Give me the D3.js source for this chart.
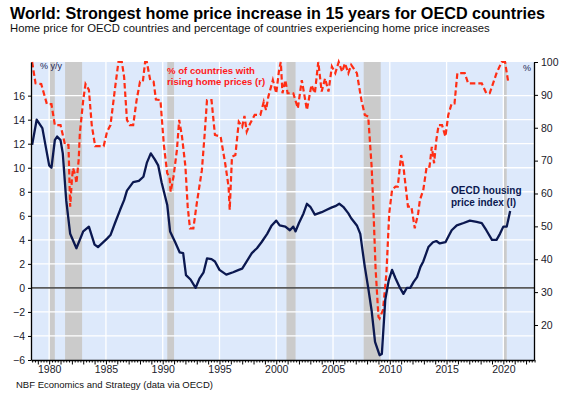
<!DOCTYPE html>
<html>
<head>
<meta charset="utf-8">
<script src="https://cdn.jsdelivr.net/npm/d3@7"></script>
<style>
  body { margin: 0; background: #fff; }
  text { font-family: "Liberation Sans", Arial, sans-serif; }
</style>
</head>
<body>
<div id="chart"></div>
<script>
// OECD housing price index, % y/y (left axis)
var hpiDates = [1978.5, 1978.9, 1979.4, 1980.0, 1980.2, 1980.5, 1980.7, 1981.0, 1981.2, 1981.5,
  1981.85, 1982.4, 1983.0, 1983.5, 1984.0, 1984.3, 1985.1, 1985.4, 1985.8, 1986.25,
  1986.6, 1986.85, 1987.4, 1987.9, 1988.3, 1988.6, 1988.95, 1989.3, 1989.6, 1989.9,
  1990.4, 1990.65, 1991.1, 1991.5, 1991.8, 1992.05, 1992.45, 1992.9, 1993.25, 1993.6,
  1993.9, 1994.3, 1994.6, 1995.0, 1995.6, 1996.2, 1996.7, 1997.0, 1997.4, 1997.85,
  1998.3, 1998.7, 1999.2, 1999.6, 2000.0, 2000.3, 2000.8, 2001.2, 2001.5, 2001.7,
  2002.0, 2002.4, 2002.7, 2003.0, 2003.4, 2004.0, 2004.45, 2004.9, 2005.2, 2005.55,
  2005.9, 2006.35, 2006.6, 2007.1, 2007.4, 2007.6, 2007.8, 2008.1, 2008.4, 2008.7,
  2009.1, 2009.3, 2009.6, 2009.9, 2010.2, 2010.5, 2010.9, 2011.2, 2011.5, 2011.8,
  2012.1, 2012.4, 2012.7, 2012.95, 2013.4, 2013.8, 2014.1, 2014.4, 2014.9, 2015.15,
  2015.45, 2015.9, 2016.5, 2017.05, 2017.65, 2018.1, 2018.5, 2019.0, 2019.4, 2019.7,
  2020.0, 2020.3, 2020.6];
var hpiYoY = [11.9, 14.0, 13.3, 10.2, 10.0, 12.3, 12.6, 12.3, 11.2, 7.3,
  4.5, 3.3, 4.7, 5.1, 3.6, 3.4, 4.1, 4.4, 5.4, 6.5,
  7.3, 8.1, 8.8, 8.9, 9.25, 10.4, 11.2, 10.7, 10.2, 8.8,
  6.9, 4.7, 3.8, 2.95, 2.9, 1.06, 0.7, 0.0, 0.8, 1.3,
  2.45, 2.4, 2.2, 1.5, 1.1, 1.3, 1.5, 1.6, 2.2, 2.9,
  3.3, 3.8, 4.5, 5.2, 5.6, 5.2, 5.1, 4.8, 5.1, 4.7,
  5.4, 6.2, 7.0, 6.75, 6.1, 6.3, 6.5, 6.7, 6.8, 7.0,
  6.75, 6.2, 5.8, 5.2, 4.5, 3.1, 1.75, 0.0, -1.9, -4.5,
  -5.6, -5.5, -1.0, 0.6, 1.5, 0.8, 0.0, -0.5, 0.0, 0.0,
  0.5, 0.9, 1.75, 2.2, 3.4, 3.8, 3.9, 3.7, 3.8, 4.25,
  4.8, 5.2, 5.4, 5.6, 5.5, 5.4, 4.8, 4.0, 4.0, 4.5,
  5.1, 5.1, 6.4];

// % of countries with rising home prices (right axis)
var shareDates = [1978.5, 1978.8, 1979.3, 1979.8, 1980.2, 1980.5, 1981.0, 1981.3, 1981.4, 1981.7,
  1981.85, 1982.0, 1982.1, 1982.3, 1982.4, 1982.6, 1982.7, 1983.0, 1983.2, 1983.5,
  1983.75, 1984.05, 1984.8, 1985.1, 1985.4, 1985.8, 1986.1, 1986.4, 1986.6, 1986.85,
  1987.1, 1987.4, 1987.7, 1988.0, 1988.25, 1988.45, 1988.6, 1988.9, 1989.2, 1989.4,
  1989.8, 1990.1, 1990.4, 1990.6, 1990.7, 1990.95, 1991.25, 1991.45, 1991.7, 1992.0,
  1992.2, 1992.4, 1992.7, 1993.0, 1993.45, 1993.7, 1993.9, 1994.3, 1994.6, 1995.1,
  1995.5, 1995.8, 1995.9, 1996.1, 1996.4, 1996.7, 1997.0, 1997.2, 1997.4, 1997.7,
  1998.1, 1998.6, 1998.9, 1999.1, 1999.3, 1999.7, 2000.0, 2000.25, 2000.4, 2000.55,
  2000.8, 2001.0, 2001.5, 2001.9, 2002.25, 2002.7, 2003.1, 2003.4, 2003.7, 2004.0,
  2004.3, 2004.6, 2004.9, 2005.2, 2005.5, 2005.8, 2006.05, 2006.35, 2006.6, 2007.1,
  2007.5, 2007.8, 2008.1, 2008.4, 2008.55, 2008.75, 2009.0, 2009.1, 2009.4, 2009.7,
  2009.95, 2010.2, 2010.5, 2010.7, 2011.0, 2011.2, 2011.6, 2011.9, 2012.2, 2012.5,
  2012.65, 2012.95, 2013.25, 2013.5, 2013.7, 2013.9, 2014.1, 2014.3, 2014.6, 2014.9,
  2015.15, 2015.45, 2015.7, 2015.95, 2016.6, 2016.9, 2018.1, 2018.5, 2018.8, 2019.4,
  2019.85, 2020.15, 2020.45];
var sharePct = [100, 93.5, 93.3, 87.2, 87.2, 80.8, 80.8, 76.3, 74.8, 74.8,
  56, 64.1, 67.7, 65.6, 63.1, 70.2, 78.3, 88.4, 93.3, 91.5,
  80.8, 74.4, 74.4, 78.8, 80.8, 92, 100, 100, 95.5, 82.4,
  80.8, 80.8, 88.4, 94, 94, 100, 100, 94.5, 94, 88.6,
  88.4, 74.8, 66.1, 65.1, 60.5, 65.1, 73.2, 82.4, 77.3, 68.2,
  56, 49.4, 49.4, 57, 67.1, 78.3, 88.4, 88.4, 77.8, 77.3,
  69.2, 62.1, 55, 71.2, 71.7, 81.8, 80.3, 83.6, 78.8, 81.3,
  83.9, 83.9, 87.9, 85.4, 89.4, 94.5, 90.5, 97.6, 100, 90.5,
  94.5, 90.5, 90.5, 85.9, 94.5, 85.4, 93, 90.5, 100, 91,
  95, 91, 98.6, 96.6, 100, 97, 99.6, 96.6, 99.1, 96.6,
  88.4, 83.9, 83.4, 68.2, 56, 37, 22.5, 22, 24.6, 35.7,
  54, 61.1, 62.1, 62.1, 71.7, 68.2, 56, 56, 49.4, 54,
  58, 61.1, 68.2, 68.2, 74.2, 69.2, 76.3, 80.8, 80.8, 77.3,
  83.9, 87.4, 87.4, 96.6, 96.6, 93.5, 93.5, 90.5, 90.5, 96.6,
  100, 100, 93.5];

// recessions (shaded)
var recStart = [1980.0, 1981.4, 1990.4, 2000.9, 2007.7, 2020.0];
var recEnd   = [1980.5, 1982.9, 1991.0, 2001.7, 2009.2, 2020.3];

var leftTicks = [-6, -4, -2, 0, 2, 4, 6, 8, 10, 12, 14, 16];
var rightTicks = [20, 30, 40, 50, 60, 70, 80, 90, 100];
var yearLabels = [1980, 1985, 1990, 1995, 2000, 2005, 2010, 2015, 2020];

var W = 569, H = 406;
var plotL = 31, plotR = 534, plotT = 62, plotB = 360;

var svg = d3.select("#chart").append("svg")
    .attr("width", W)
    .attr("height", H);

var x = d3.scaleLinear().domain([1978.4, 2022.7]).range([plotL, plotR]);
var yL = d3.scaleLinear().domain([-6, 18.8]).range([plotB, plotT]);
var yR = d3.scaleLinear().domain([9.35, 100]).range([plotB, plotT]);

// titles
svg.append("text")
    .attr("x", 10).attr("y", 19)
    .attr("font-size", "16.2px")
    .attr("font-weight", "bold")
    .attr("fill", "#000")
    .text("World: Strongest home price increase in 15 years for OECD countries");
svg.append("text")
    .attr("x", 10).attr("y", 32)
    .attr("font-size", "11.3px")
    .attr("fill", "#111")
    .text("Home price for OECD countries and percentage of countries experiencing home price increases");

// plot background
svg.append("rect")
    .attr("x", plotL).attr("y", plotT)
    .attr("width", plotR - plotL).attr("height", plotB - plotT)
    .attr("fill", "#dde9fb");

// recession bars
svg.append("g").selectAll("rect")
    .data(recStart)
    .enter().append("rect")
    .attr("x", function (d) { return x(d); })
    .attr("y", plotT)
    .attr("width", function (d, i) { return x(recEnd[i]) - x(d); })
    .attr("height", plotB - plotT)
    .attr("fill", "#cbcbcb");

// grid
var grid = svg.append("g").attr("stroke", "#fff").attr("stroke-width", 1.3);
grid.selectAll(".h").data(leftTicks.filter(function (d) { return d !== 0 && d !== -6; }))
    .enter().append("line")
    .attr("x1", plotL).attr("x2", plotR)
    .attr("y1", function (d) { return yL(d); })
    .attr("y2", function (d) { return yL(d); });
grid.selectAll(".v").data(yearLabels)
    .enter().append("line")
    .attr("y1", plotT).attr("y2", plotB)
    .attr("x1", function (d) { return x(d); })
    .attr("x2", function (d) { return x(d); });

// zero line
svg.append("line")
    .attr("x1", plotL).attr("x2", plotR)
    .attr("y1", yL(0)).attr("y2", yL(0))
    .attr("stroke", "#5a5a5a")
    .attr("stroke-width", 1.6);

// lines
var shareLine = d3.line()
    .x(function (d, i) { return x(shareDates[i]); })
    .y(function (d) { return yR(d); });
svg.append("path")
    .attr("d", shareLine(sharePct))
    .attr("fill", "none")
    .attr("stroke", "#ff2d14")
    .attr("stroke-width", 2.2)
    .attr("stroke-dasharray", "5.5,3");

var hpiLine = d3.line()
    .x(function (d, i) { return x(hpiDates[i]); })
    .y(function (d) { return yL(d); });
svg.append("path")
    .attr("d", hpiLine(hpiYoY))
    .attr("fill", "none")
    .attr("stroke", "#0b1850")
    .attr("stroke-width", 2.3)
    .attr("stroke-linejoin", "round");

// axes
var axL = svg.append("g")
    .attr("transform", "translate(" + plotL + ",0)")
    .call(d3.axisLeft(yL).tickValues(leftTicks).tickSize(3).tickSizeOuter(0).tickFormat(d3.format("d")));
var axR = svg.append("g")
    .attr("transform", "translate(" + plotR + ",0)")
    .call(d3.axisRight(yR).tickValues(rightTicks).tickSize(4).tickSizeOuter(0));
var qTicks = d3.range(1978.5, 2022.76, 0.25);
var axB = svg.append("g")
    .attr("transform", "translate(0," + plotB + ")")
    .call(d3.axisBottom(x).tickValues(qTicks).tickSize(2.5).tickSizeOuter(0).tickFormat(""));
axB.selectAll(".tick line")
    .attr("y2", function (d) { return Math.abs(d - Math.round(d)) < 0.01 ? 4.5 : 2.5; });
svg.append("g")
    .attr("transform", "translate(0," + plotB + ")")
    .call(d3.axisBottom(x).tickValues(yearLabels).tickSize(0).tickPadding(6).tickFormat(d3.format("d")))
    .call(function (g) { g.select(".domain").remove(); });

svg.selectAll(".domain").attr("stroke", "#000").attr("stroke-width", 1.3);
svg.selectAll(".tick line").attr("stroke", "#000");
svg.selectAll(".tick text")
    .attr("font-family", "Liberation Sans, Arial, sans-serif")
    .attr("font-size", "10.5px")
    .attr("fill", "#1a1a2a");

// annotations
svg.append("text")
    .attr("x", 40).attr("y", 69)
    .attr("font-size", "9px").attr("fill", "#1b2450")
    .text("% y/y");
svg.append("text")
    .attr("x", 523).attr("y", 71)
    .attr("font-size", "9px").attr("fill", "#1b2450")
    .text("%");

var redLab = svg.append("text")
    .attr("font-size", "9.6px")
    .attr("font-weight", "bold")
    .attr("fill", "#ff1a1a");
redLab.append("tspan").attr("x", 167).attr("y", 74).text("% of countries with");
redLab.append("tspan").attr("x", 167).attr("y", 85).text("rising home prices (r)");

var navyLab = svg.append("text")
    .attr("font-size", "10px")
    .attr("font-weight", "bold")
    .attr("fill", "#0b1850");
navyLab.append("tspan").attr("x", 451).attr("y", 194).text("OECD housing");
navyLab.append("tspan").attr("x", 451).attr("y", 206).text("price index (l)");

svg.append("text")
    .attr("x", 16).attr("y", 388)
    .attr("font-size", "9.5px")
    .attr("fill", "#111")
    .text("NBF Economics and Strategy (data via OECD)");
</script>
</body>
</html>
